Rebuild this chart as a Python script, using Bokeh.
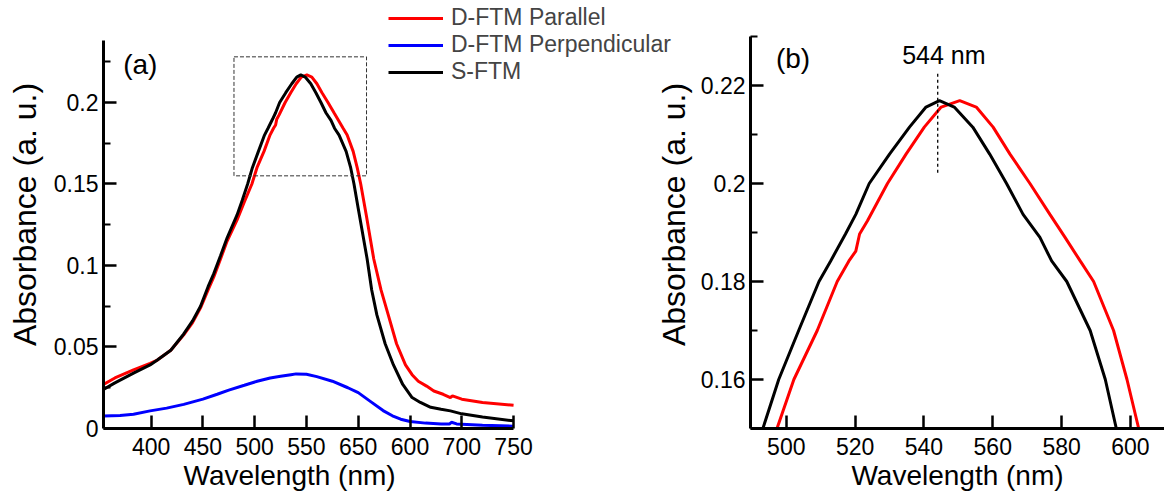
from bokeh.plotting import figure
from bokeh.layouts import row
from bokeh.models import FixedTicker, Legend, LegendItem, Label, Range1d, PrintfTickFormatter, Title
from bokeh.embed import file_html
from bokeh.resources import INLINE

# ---------------- data ----------------
par_wl = [354, 365, 383, 399, 406, 419, 431.5, 440, 447.7, 455, 460.5, 467, 473.4, 483, 490,
          497.3, 502.2, 509.0, 514.8, 518.2, 520.2, 521.3, 523.6, 529.4, 534.8, 540.1, 545.0,
          550.4, 555.2, 560.1, 565.0, 570.8, 576.6, 581.0, 585.4, 589.3, 595.1, 599.0, 602.4,
          608, 615, 622, 629, 637, 645.6, 652, 658, 666, 673, 682, 689, 691, 700, 720, 750]
par_abs = [0.027, 0.031, 0.036, 0.040, 0.042, 0.048, 0.0575, 0.065, 0.074, 0.085, 0.093, 0.104,
           0.115, 0.128, 0.139,
           0.150, 0.160, 0.170, 0.180, 0.1842, 0.1862, 0.1897, 0.1924, 0.200, 0.206, 0.2115, 0.2156,
           0.2169, 0.2156, 0.2115, 0.206, 0.200, 0.1937, 0.1890, 0.1842, 0.180, 0.170, 0.160, 0.150,
           0.130, 0.104, 0.085, 0.0697, 0.052, 0.039, 0.033, 0.029, 0.026, 0.023, 0.021, 0.019, 0.020,
           0.018, 0.016, 0.0142]

sftm_wl = [354, 365, 383, 399, 406, 419, 431.5, 440, 447.7, 455, 460.5, 467, 473.4, 483, 488,
           493.2, 497.8, 503.6, 509.5, 512.9, 517.2, 520.2, 524.1, 530.0, 535.8, 540.6, 544.5,
           548.8, 554.2, 559.1, 564.0, 568.8, 573.7, 577.1, 581.5, 588.3, 592.7, 595.9, 600,
           608.6, 613, 618, 626, 634, 643, 652, 660, 670, 680, 689, 700, 720, 750]
sftm_abs = [0.024, 0.028, 0.034, 0.039, 0.042, 0.048, 0.058, 0.066, 0.075, 0.087, 0.095, 0.106,
            0.117, 0.131, 0.140,
            0.150, 0.160, 0.170, 0.180, 0.1842, 0.1897, 0.1937, 0.200, 0.206, 0.2115, 0.2156, 0.2169,
            0.2156, 0.2115, 0.206, 0.200, 0.1937, 0.1890, 0.1842, 0.180, 0.170, 0.160, 0.150, 0.135,
            0.104, 0.085, 0.0697, 0.052, 0.039, 0.027, 0.019, 0.016, 0.013, 0.0118, 0.0108, 0.009,
            0.007, 0.0047]

perp_wl = [354, 370, 383, 399, 415, 431.5, 450, 463.8, 475, 490, 502.4, 515, 525, 535, 540, 550,
           560, 575, 590, 600, 612, 624, 633, 641, 650, 665, 680, 688, 690, 695, 720, 750]
perp_abs = [0.0077, 0.0080, 0.0087, 0.0108, 0.0125, 0.0148, 0.0180, 0.021, 0.0235, 0.0265, 0.029,
            0.031, 0.032, 0.033, 0.0335, 0.0333, 0.0318, 0.029, 0.025, 0.022, 0.0165, 0.011, 0.0078,
            0.0057, 0.0043, 0.0033, 0.0028, 0.0027, 0.0038, 0.0028, 0.0020, 0.0014]

series_names = ["D-FTM Parallel", "D-FTM Perpendicular", "S-FTM"]
series_colors = ["#ff0000", "#0000ff", "#000000"]

x_title = "Wavelength (nm)"
y_title = "Absorbance (a. u.)"

left_x_bounds = (354, 750)
left_y_bounds = (0, 0.238)
left_x_ticks = [400, 450, 500, 550, 600, 650, 700, 750]
left_x_tick_labels = ["400", "450", "500", "550", "650", "600", "700", "750"]
left_y_ticks = [0, 0.05, 0.1, 0.15, 0.2]
left_y_minor = [0.025, 0.075, 0.125, 0.175, 0.225]

right_x_bounds = (489.6, 609.9)
right_y_bounds = (0.15, 0.23)
right_x_ticks = [500, 520, 540, 560, 580, 600]
right_y_ticks = [0.16, 0.18, 0.2, 0.22]
right_y_minor = [0.15, 0.17, 0.19, 0.21, 0.23]

zoom_box = dict(left=480, right=608, bottom=0.155, top=0.228)
peak_wl = 544
peak_line_y = [0.2022, 0.2227]
peak_label = "544 nm"

FONT = "Liberation Sans"


def style_axes(p, xticks, yticks, yminor):
    p.xaxis.ticker = FixedTicker(ticks=xticks, minor_ticks=[])
    p.yaxis.ticker = FixedTicker(ticks=yticks, minor_ticks=yminor)
    for ax in (p.xaxis[0], p.yaxis[0]):
        ax.axis_line_width = 3
        ax.axis_line_color = "black"
        ax.major_tick_in = 13
        ax.major_tick_out = 0
        ax.minor_tick_in = 7
        ax.minor_tick_out = 0
        ax.major_tick_line_width = 2.5
        ax.minor_tick_line_width = 2
        ax.major_label_text_font = FONT
        ax.major_label_text_font_size = "23px"
        ax.major_label_text_color = "black"
        ax.axis_label_text_font = FONT
        ax.axis_label_text_font_style = "normal"
        ax.axis_label_text_color = "black"
    p.xaxis.major_label_standoff = 9
    p.yaxis.major_label_standoff = 5
    p.yaxis.axis_label_standoff = 8
    p.yaxis.axis_label_text_font_size = "32px"
    p.xgrid.visible = False
    p.ygrid.visible = False
    p.outline_line_color = None


def x_title_of(align, offset):
    return Title(text=x_title, align=align, offset=offset, standoff=0,
                 text_font=FONT, text_font_size="28px", text_font_style="normal",
                 text_color="black")


W1 = 674          # left canvas (legend text reaches its right edge)
OVERLAP = 24      # right canvas slides under the end of the legend text
H = 497
B1 = 431          # frame bottoms in pixels
B2 = 428

# ---------------- left panel ----------------
p1 = figure(width=W1, height=H, output_backend="svg", toolbar_location=None,
            x_range=Range1d(354, 354 + (W1 - 103) / 1.0355),
            y_range=Range1d(0, 0.2 * B1 / (B1 - 102.7)),
            min_border_left=103, min_border_right=0, min_border_top=0,
            min_border_bottom=H - B1, y_axis_label=y_title,
            border_fill_alpha=0, background_fill_alpha=0)
style_axes(p1, left_x_ticks, left_y_ticks, left_y_minor)
p1.xaxis.bounds = left_x_bounds
p1.yaxis.bounds = left_y_bounds
p1.xaxis.major_label_overrides = {t: s for t, s in zip(left_x_ticks, left_x_tick_labels)}
p1.yaxis.formatter = PrintfTickFormatter(format="%g")
p1.add_layout(x_title_of("left", 80), "below")

r_par = p1.line(par_wl, par_abs, line_color=series_colors[0], line_width=3)
r_perp = p1.line(perp_wl, perp_abs, line_color=series_colors[1], line_width=3)
r_s = p1.line(sftm_wl, sftm_abs, line_color=series_colors[2], line_width=3)

p1.quad(left=[zoom_box["left"]], right=[zoom_box["right"]], bottom=[zoom_box["bottom"]],
        top=[zoom_box["top"]], fill_alpha=0, line_color="#333333", line_width=1, line_dash="4 2")

p1.add_layout(Label(x=373, y=0.223, text="(a)", text_font=FONT, text_font_size="28px",
                    text_baseline="middle", text_color="black"))

legend = Legend(items=[LegendItem(label=n, renderers=[r]) for n, r in
                       zip(series_names, [r_par, r_perp, r_s])],
                location=(285, B1 - 88), orientation="vertical",
                label_text_font=FONT, label_text_font_size="23px",
                glyph_width=55, glyph_height=24, label_height=24, label_standoff=8,
                spacing=-1, padding=0, margin=0,
                border_line_color=None, background_fill_alpha=0)
p1.add_layout(legend, "center")

# ---------------- right panel ----------------
p2 = figure(width=1164 - W1 + OVERLAP, height=H, output_backend="svg", toolbar_location=None,
            x_range=Range1d(*right_x_bounds),
            y_range=Range1d(0.15, 0.15 + 0.07 * B2 / (B2 - 85)),
            min_border_left=750 - (W1 - OVERLAP), min_border_right=0, min_border_top=0,
            min_border_bottom=H - B2, y_axis_label=y_title,
            border_fill_alpha=0, background_fill_alpha=0,
            styles={"margin-left": f"-{OVERLAP}px"})
style_axes(p2, right_x_ticks, right_y_ticks, right_y_minor)
p2.yaxis.bounds = right_y_bounds
p2.yaxis.axis_label_standoff = 6
p2.yaxis.formatter = PrintfTickFormatter(format="%g")
p2.add_layout(x_title_of("center", 0), "below")

p2.line(par_wl, par_abs, line_color=series_colors[0], line_width=3)
p2.line(sftm_wl, sftm_abs, line_color=series_colors[2], line_width=3)
p2.line([peak_wl, peak_wl], peak_line_y, line_color="black", line_width=1.3, line_dash="3 3")
p2.add_layout(Label(x=peak_wl + 1.8, y=0.2262, text=peak_label, text_font=FONT,
                    text_font_size="25px", text_align="center", text_baseline="middle",
                    text_color="black"))
p2.add_layout(Label(x=497, y=0.2255, text="(b)", text_font=FONT, text_font_size="28px",
                    text_baseline="middle", text_color="black"))

layout = row(p1, p2)
open("out.html", "w").write(file_html(layout, INLINE))
